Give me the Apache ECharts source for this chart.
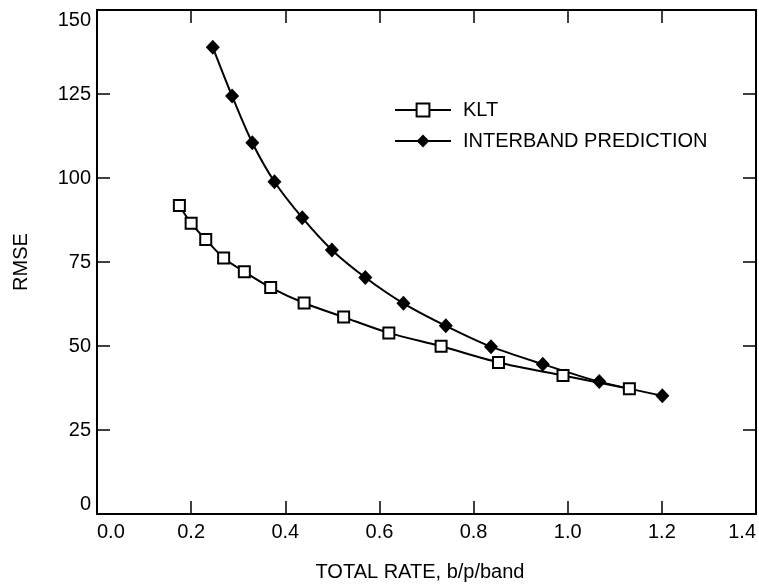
<!DOCTYPE html>
<html>
<head>
<meta charset="utf-8">
<script src="https://cdn.jsdelivr.net/npm/echarts@6/dist/echarts.min.js"></script>
<style>
html,body{margin:0;padding:0;background:#fff;}
#c{width:759px;height:588px;}
</style>
</head>
<body>
<div id="c"></div>
<script>
var kltRate = [0.175, 0.200, 0.231, 0.269, 0.313, 0.369, 0.440, 0.524, 0.620, 0.731, 0.853, 0.990, 1.131];
var kltRmse = [91.8, 86.5, 81.7, 76.2, 72.1, 67.4, 62.8, 58.6, 53.9, 49.9, 45.1, 41.2, 37.3];
var ibpRate = [0.246, 0.287, 0.330, 0.377, 0.436, 0.499, 0.570, 0.651, 0.741, 0.837, 0.947, 1.067, 1.201];
var ibpRmse = [138.9, 124.4, 110.5, 98.9, 88.2, 78.6, 70.4, 62.7, 56.0, 49.8, 44.6, 39.4, 35.2];
var seriesNames = ['KLT', 'INTERBAND PREDICTION'];
var xTitle = 'TOTAL RATE, b/p/band';
var yTitle = 'RMSE';

function pairs(xs, ys){ return xs.map(function(x,i){ return [x, ys[i]]; }); }

var font = 'Liberation Sans, Arial, Helvetica, sans-serif';
var chart = echarts.init(document.getElementById('c'), null, {renderer:'canvas'});
var axisLineStyle = {color:'#000', width:2};
var tickStyle = {show:true, inside:true, length:13, lineStyle:{color:'#000', width:1.5}};
chart.setOption({
  backgroundColor:'#fff',
  animation:false,
  grid:{left:97, right:3, top:10, bottom:74, containLabel:false},
  legend:{
    left:389, top:95, orient:'vertical',
    itemWidth:56, itemHeight:16, itemGap:11,
    data:seriesNames,
    textStyle:{color:'#000', fontSize:20, fontFamily:font, lineHeight:20, padding:[0,0,0,7]}
  },
  xAxis:[{
    type:'value', min:0, max:1.4, interval:0.2, position:'bottom',
    name:xTitle, nameLocation:'middle', nameGap:48,
    nameTextStyle:{color:'#000', fontSize:20, fontFamily:font, padding:[0,13,0,0]},
    axisLine:{show:true, onZero:false, lineStyle:axisLineStyle},
    axisTick:tickStyle,
    axisLabel:{color:'#000', fontSize:20, fontFamily:font, margin:8,
      formatter:function(v){return v.toFixed(1);}, alignMinLabel:'left', alignMaxLabel:'right'},
    splitLine:{show:false}
  },{
    type:'value', min:0, max:1.4, interval:0.2, position:'top',
    axisLine:{show:true, onZero:false, lineStyle:axisLineStyle},
    axisTick:tickStyle, axisLabel:{show:false}, splitLine:{show:false}
  }],
  yAxis:[{
    type:'value', min:0, max:150, interval:25, position:'left',
    name:yTitle, nameLocation:'middle', nameGap:66,
    nameTextStyle:{color:'#000', fontSize:20, fontFamily:font},
    axisLine:{show:true, onZero:false, lineStyle:axisLineStyle},
    axisTick:tickStyle,
    axisLabel:{color:'#000', fontSize:20, fontFamily:font, margin:6,
      verticalAlignMinLabel:'bottom', verticalAlignMaxLabel:'top'},
    splitLine:{show:false}
  },{
    type:'value', min:0, max:150, interval:25, position:'right',
    axisLine:{show:true, onZero:false, lineStyle:axisLineStyle},
    axisTick:tickStyle, axisLabel:{show:false}, splitLine:{show:false}
  }],
  series:[{
    name:seriesNames[1], type:'line', smooth:0.3,
    data:pairs(ibpRate, ibpRmse),
    symbol:'diamond', symbolSize:[14,15],
    lineStyle:{color:'#000', width:2},
    itemStyle:{color:'#000', borderColor:'#000', borderWidth:0}
  },{
    name:seriesNames[0], type:'line', smooth:0.3,
    data:pairs(kltRate, kltRmse),
    symbol:'rect', symbolSize:11,
    lineStyle:{color:'#000', width:2},
    itemStyle:{color:'#fff', borderColor:'#000', borderWidth:2}
  }]
});
</script>
</body>
</html>
